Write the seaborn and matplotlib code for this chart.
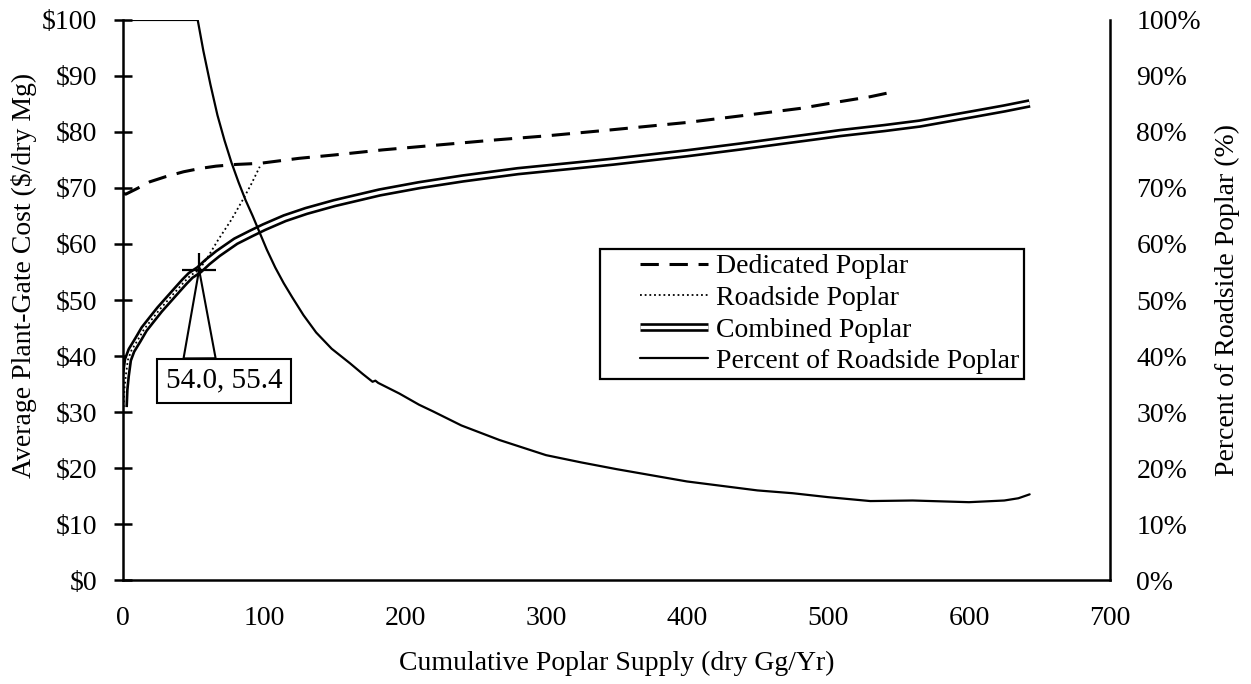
import numpy as np
import pandas as pd
import matplotlib
matplotlib.use("Agg")
import matplotlib.pyplot as plt
import seaborn as sns
from matplotlib.lines import Line2D
from matplotlib.legend_handler import HandlerTuple, HandlerLine2D
from matplotlib.ticker import FuncFormatter

# ---------------- data ----------------
dedicated_x = [0, 2, 10, 19, 30, 43, 55, 66, 80, 97, 125, 150, 184, 220, 265, 300,
               347, 400, 442, 480, 508, 530, 545]
dedicated_y = [69.1, 68.9, 69.9, 71.1, 72.0, 72.9, 73.5, 73.9, 74.2, 74.4, 75.3, 75.9,
               76.8, 77.6, 78.6, 79.3, 80.4, 81.7, 83.0, 84.2, 85.4, 86.3, 87.1]

combined_x = [0.5, 1, 2, 3.5, 6, 10.6, 15, 20, 26, 32, 38, 43.7, 48, 54, 60, 67.4, 80,
              91, 100, 114.7, 130, 150, 182, 210, 241, 280, 320, 347.5, 400, 437.6,
              470, 494, 508.5, 540, 565, 603, 625, 643]
combined_y = [30.9, 34.0, 36.5, 39.3, 41.0, 42.9, 44.8, 46.4, 48.3, 50.0, 51.7, 53.3,
              54.4, 55.4, 56.8, 58.3, 60.5, 61.9, 63.0, 64.6, 65.9, 67.3, 69.2, 70.5,
              71.7, 73.0, 74.0, 74.7, 76.2, 77.4, 78.5, 79.3, 79.8, 80.7, 81.5, 83.2,
              84.2, 85.1]

roadside_x = [0.5, 1, 2, 3.5, 6, 10.6, 15, 20, 26, 32, 38, 43.7, 48, 54, 60, 67.4,
              76.8, 85, 91, 97]
roadside_y = [30.9, 34.0, 36.5, 39.3, 41.0, 42.9, 44.8, 46.4, 48.3, 50.0, 51.7, 53.3,
              54.4, 55.4, 57.6, 60.7, 64.3, 67.9, 70.7, 73.8]

percent_x = [0, 20, 40, 53, 57, 62, 67, 72, 77, 82, 87, 92, 97, 102, 108, 114, 120,
             128, 137, 148, 161, 170, 177, 179, 181, 196, 210, 220, 240, 267, 300,
             325, 350, 375, 400, 425, 450, 475, 500, 530, 560, 600, 625, 635, 643]
percent_y = [100, 100, 100, 100, 94.5, 88.5, 83.0, 78.5, 74.5, 71.0, 67.8, 65.0, 62.0,
             59.0, 55.8, 53.0, 50.5, 47.3, 44.2, 41.3, 38.7, 36.8, 35.4, 35.6, 35.2,
             33.3, 31.3, 30.1, 27.6, 25.0, 22.3, 21.0, 19.8, 18.7, 17.6, 16.8, 16.0,
             15.5, 14.8, 14.1, 14.2, 13.9, 14.2, 14.6, 15.3]

marker_x, marker_y = 54.0, 55.4
marker_label = "54.0, 55.4"

x_ticks = [0, 100, 200, 300, 400, 500, 600, 700]
cost_ticks = [0, 10, 20, 30, 40, 50, 60, 70, 80, 90, 100]
pct_ticks = [0, 10, 20, 30, 40, 50, 60, 70, 80, 90, 100]

series_names = ["Dedicated Poplar", "Roadside Poplar", "Combined Poplar",
                "Percent of Roadside Poplar"]

# ---------------- style ----------------
sns.set_theme(style="white")
plt.rcParams['font.family'] = ['Liberation Serif', 'DejaVu Serif']
plt.rcParams['text.color'] = 'black'
plt.rcParams['axes.labelcolor'] = 'black'
plt.rcParams['xtick.color'] = 'black'
plt.rcParams['ytick.color'] = 'black'

FS = 20
fig = plt.figure(figsize=(12.51, 6.84), dpi=100)
fig.subplots_adjust(left=0.0983, right=0.8873, top=0.9708, bottom=0.152)
ax = fig.add_subplot(111)
ax2 = ax.twinx()

df_ded = pd.DataFrame({"x": dedicated_x, "y": dedicated_y})
df_com = pd.DataFrame({"x": combined_x, "y": combined_y})
df_road = pd.DataFrame({"x": roadside_x, "y": roadside_y})
df_pct = pd.DataFrame({"x": percent_x, "y": percent_y})

sns.lineplot(data=df_ded, x="x", y="y", ax=ax, color="black", linewidth=2.2,
             linestyle=(0, (6, 3.5)), errorbar=None)
sns.lineplot(data=df_com, x="x", y="y", ax=ax, color="black", linewidth=6.2,
             errorbar=None, solid_capstyle="butt")
sns.lineplot(data=df_com, x="x", y="y", ax=ax, color="white", linewidth=2.4,
             errorbar=None, solid_capstyle="butt")
sns.lineplot(data=df_road, x="x", y="y", ax=ax, color="black", linewidth=1.3,
             linestyle=(0, (1, 1.6)), errorbar=None)
sns.lineplot(data=df_pct, x="x", y="y", ax=ax2, color="black", linewidth=1.6,
             errorbar=None)

# marker + callout
ax.plot([marker_x], [marker_y], marker="+", markersize=25, markeredgewidth=1.6,
        color="black", linestyle="none")
ax.annotate(marker_label, xy=(marker_x, marker_y), xytext=(18, -80),
            textcoords="offset points", fontsize=21, ha="center", va="center",
            bbox=dict(boxstyle="square,pad=0.3", fc="white", ec="black", lw=1.5),
            arrowprops=dict(arrowstyle="wedge,tail_width=1.1,shrink_factor=0.5",
                            fc="white", ec="black", lw=1.5, shrinkA=0, shrinkB=0,
                            relpos=(0.29, 1.0)))

# axes limits and ticks
ax.set_xlim(0, 700)
ax.set_ylim(0, 100)
ax2.set_ylim(0, 100)
ax.set_xticks(x_ticks)
ax.set_yticks(cost_ticks)
ax2.set_yticks(pct_ticks)
ax.yaxis.set_major_formatter(FuncFormatter(lambda v, p: "\\$%d" % v))
ax2.yaxis.set_major_formatter(FuncFormatter(lambda v, p: "%d%%" % v))

ax.tick_params(axis="y", direction="inout", length=13, width=1.8, pad=12,
               labelsize=FS, left=True)
ax.tick_params(axis="x", length=0, pad=19, labelsize=FS)
ax2.tick_params(axis="y", length=0, pad=19, labelsize=FS, right=True)

for a in (ax, ax2):
    for s in a.spines.values():
        s.set_color("black")
        s.set_linewidth(1.8)
    a.spines["top"].set_visible(False)
ax.spines["right"].set_visible(False)
ax2.spines["left"].set_visible(False)
ax2.spines["bottom"].set_visible(False)

ax.set_xlabel("Cumulative Poplar Supply (dry Gg/Yr)", fontsize=FS, labelpad=14)
ax.set_ylabel("Average Plant-Gate Cost (\\$/dry Mg)", fontsize=FS)
ax.yaxis.set_label_coords(-0.087, 0.543)
ax2.set_ylabel("Percent of Roadside Poplar (%)", fontsize=FS, labelpad=10)

# legend
h_ded = Line2D([], [], color="black", linewidth=2.2, linestyle=(0, (6, 3.5)))
h_road = Line2D([], [], color="black", linewidth=1.3, linestyle=(0, (1, 1.6)))
h_com = (Line2D([], [], color="black", linewidth=6.2, solid_capstyle="butt"),
         Line2D([], [], color="white", linewidth=2.4, solid_capstyle="butt"))
h_pct = Line2D([], [], color="black", linewidth=1.6)
hm = {h_ded: HandlerLine2D(xpad=1.25), h_road: HandlerLine2D(xpad=1.25),
      h_pct: HandlerLine2D(xpad=1.25), h_com: HandlerTuple(ndivide=1, pad=0, xpad=1.25)}
leg = ax2.legend([h_ded, h_road, h_com, h_pct], series_names, handler_map=hm,
                 loc="upper left", bbox_to_anchor=(600 / 1251, 1 - 249 / 684),
                 bbox_transform=fig.transFigure, borderaxespad=0, fontsize=FS,
                 frameon=True, fancybox=False, framealpha=1, edgecolor="black",
                 handlelength=3.7, handletextpad=0.3, labelspacing=0.22,
                 borderpad=0.18)
leg.get_frame().set_linewidth(1.6)

fig.savefig("out.png", dpi=100, facecolor="white")
